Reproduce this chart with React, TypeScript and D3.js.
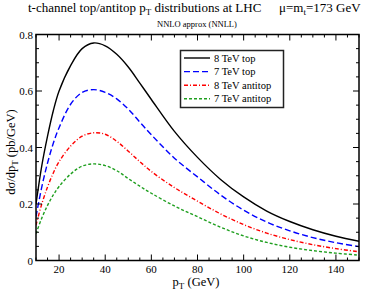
import React from 'react';
import * as d3 from 'd3';

// pT grid (GeV) and curves (pb/GeV)
const pt = [10, 12.5, 15, 17.5, 20, 25, 30, 35, 40, 45, 50, 55, 60, 70, 80, 90, 100, 110, 120, 130, 140, 150];
const top8 = [0.2, 0.335, 0.44, 0.53, 0.6, 0.69, 0.75, 0.77, 0.76, 0.73, 0.685, 0.628, 0.57, 0.457, 0.365, 0.287, 0.225, 0.175, 0.138, 0.109, 0.086, 0.068];
const top7 = [0.155, 0.26, 0.345, 0.415, 0.47, 0.553, 0.595, 0.605, 0.595, 0.572, 0.536, 0.49, 0.445, 0.362, 0.296, 0.232, 0.178, 0.136, 0.105, 0.081, 0.063, 0.049];
const anti8 = [0.125, 0.2, 0.26, 0.31, 0.35, 0.405, 0.44, 0.452, 0.447, 0.422, 0.387, 0.35, 0.315, 0.258, 0.21, 0.165, 0.127, 0.097, 0.074, 0.056, 0.042, 0.031];
const anti7 = [0.095, 0.15, 0.195, 0.232, 0.262, 0.306, 0.334, 0.342, 0.336, 0.318, 0.29, 0.263, 0.238, 0.193, 0.155, 0.118, 0.087, 0.064, 0.047, 0.035, 0.026, 0.019];

const seriesNames = ['8 TeV top', '7 TeV top', '8 TeV antitop', '7 TeV antitop'];
const seriesValues = [top8, top7, anti8, anti7];
const colors = ['#000000', '#0000ff', '#ff0000', '#1f9f1f'];
const dashes = ['none', '6,3', '4,2,1,2', '3,2'];

const xMajor = [20, 40, 60, 80, 100, 120, 140];
const xMinor = d3.range(10, 151, 5);
const yMajor = [0, 0.2, 0.4, 0.6, 0.8];
const yMinor = d3.range(0, 0.81, 0.05);

const W = 368, H = 291;
const m = { left: 36, right: 9, top: 34.5, bottom: 30.5 };

const App = () => {
  const x = d3.scaleLinear().domain([10, 150]).range([m.left, W - m.right]);
  const y = d3.scaleLinear().domain([0, 0.8]).range([H - m.bottom, m.top]);
  const line = d3.line<[number, number]>()
    .x(d => x(d[0]))
    .y(d => y(d[1]))
    .curve(d3.curveCatmullRom.alpha(0.5));

  const font = '"Liberation Serif", "Times New Roman", "DejaVu Serif", serif';
  const x0 = m.left, x1 = W - m.right, y0 = H - m.bottom, y1 = m.top;

  return (
    <svg width={W} height={H} style={{ position: 'absolute', left: 0, top: 0, fontFamily: font }}>
      <rect width={W} height={H} fill="#fff" />
      <text x={28} y={12} fontSize={13}>
        t-channel top/antitop p<tspan fontSize={9} dy={3}>T</tspan><tspan dy={-3}> distributions at LHC</tspan>
      </text>
      <text x={279} y={12} fontSize={13}>
        μ=m<tspan fontSize={9} dy={3}>t</tspan><tspan dy={-3}>=173 GeV</tspan>
      </text>
      <text x={197} y={27} fontSize={8.5} textAnchor="middle">NNLO approx (NNLL)</text>

      <defs>
        <clipPath id="plot">
          <rect x={x0} y={y1} width={x1 - x0} height={y0 - y1} />
        </clipPath>
      </defs>

      <g clipPath="url(#plot)">
        {seriesValues.map((vals, i) => (
          <path key={i}
            d={line(pt.map((p, j) => [p, vals[j]] as [number, number])) || ''}
            fill="none" stroke={colors[i]} strokeWidth={1.4}
            strokeDasharray={dashes[i]} />
        ))}
      </g>

      {/* ticks on all four sides, pointing inwards */}
      {xMinor.map(v => {
        const big = xMajor.includes(v);
        const l = big ? 6 : 3;
        return (
          <g key={'xt' + v} stroke="#000" strokeWidth={1}>
            <line x1={x(v)} x2={x(v)} y1={y0} y2={y0 - l} />
            <line x1={x(v)} x2={x(v)} y1={y1} y2={y1 + l} />
          </g>
        );
      })}
      {yMinor.map((v, i) => {
        const big = i % 4 === 0;
        const l = big ? 6 : 3;
        return (
          <g key={'yt' + i} stroke="#000" strokeWidth={1}>
            <line x1={x0} x2={x0 + l} y1={y(v)} y2={y(v)} />
            <line x1={x1} x2={x1 - l} y1={y(v)} y2={y(v)} />
          </g>
        );
      })}
      <rect x={x0} y={y1} width={x1 - x0} height={y0 - y1} fill="none" stroke="#000" strokeWidth={1.5} />

      {xMajor.map(v => (
        <text key={'xl' + v} x={x(v)} y={y0 + 12.5} fontSize={11} textAnchor="middle">{v}</text>
      ))}
      {yMajor.map(v => (
        <text key={'yl' + v} x={x0 - 3} y={y(v) + 4} fontSize={11} textAnchor="end">{v === 0 ? '0' : v.toFixed(1)}</text>
      ))}

      <text x={196} y={285.5} fontSize={12.5} textAnchor="middle">
        p<tspan fontSize={9} dy={3}>T</tspan><tspan dy={-3}> (GeV)</tspan>
      </text>
      <text transform={`translate(15,152) rotate(-90)`} fontSize={12.5} textAnchor="middle">
        dσ/dp<tspan fontSize={9} dy={3}>T</tspan><tspan dy={-3}> (pb/GeV)</tspan>
      </text>

      <g>
        <rect x={180.5} y={50.5} width={103} height={57} fill="#fff" stroke="#222" strokeWidth={1.5} />
        {seriesNames.map((n, i) => {
          const ry = 58 + i * 13.6;
          return (
            <g key={n}>
              <line x1={184} x2={210} y1={ry} y2={ry} stroke={colors[i]} strokeWidth={1.4} strokeDasharray={dashes[i]} />
              <text x={214} y={ry + 3.5} fontSize={10.5}>{n}</text>
            </g>
          );
        })}
      </g>
    </svg>
  );
};

export default App;
